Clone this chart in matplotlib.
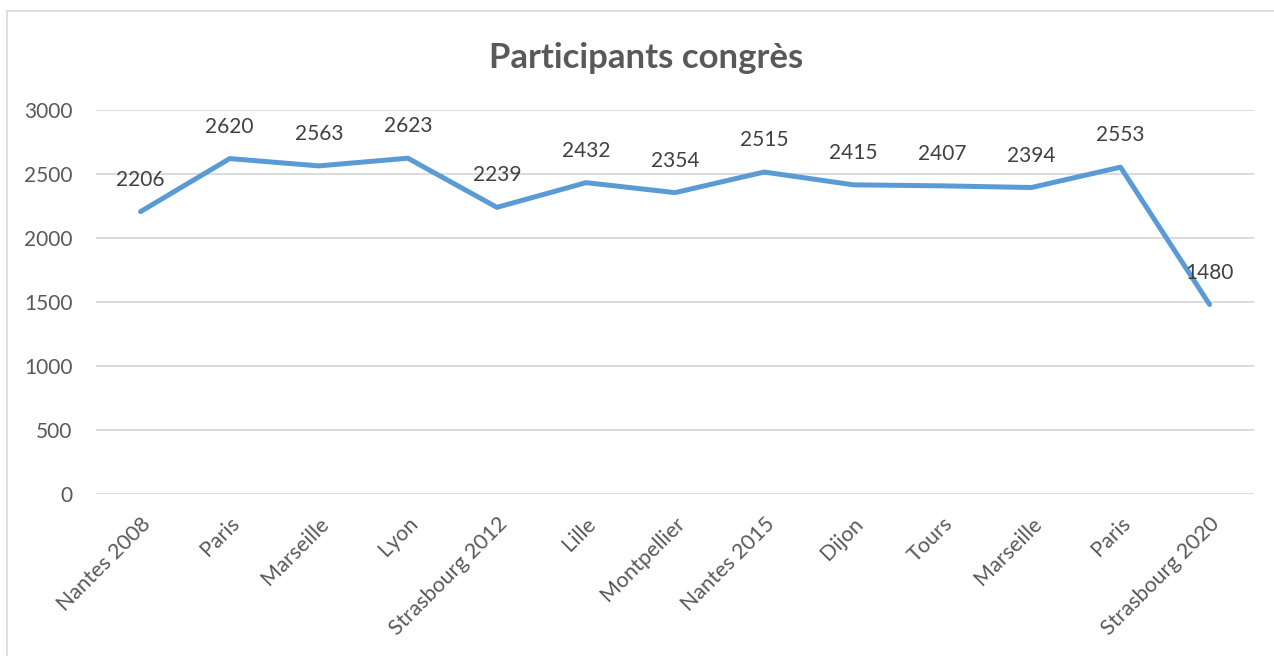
import matplotlib.pyplot as plt
import matplotlib.patches as mpatches
import numpy as np

villes = ['Nantes 2008', 'Paris', 'Marseille', 'Lyon', 'Strasbourg 2012', 'Lille',
          'Montpellier', 'Nantes 2015', 'Dijon', 'Tours', 'Marseille', 'Paris',
          'Strasbourg 2020']
participants = [2206, 2620, 2563, 2623, 2239, 2432, 2354, 2515, 2415, 2407, 2394, 2553, 1480]
yticks = [0, 500, 1000, 1500, 2000, 2500, 3000]

gris = '#595959'
bleu = '#5B9BD5'
plt.rcParams['font.family'] = ['Lato', 'DejaVu Sans']

fig = plt.figure(figsize=(12.74, 6.56), dpi=100)
ax = fig.add_axes([0.0754, 0.247, 0.909, 0.5854])

x = np.arange(len(villes))
ax.plot(x, participants, color=bleu, linewidth=3.6, solid_capstyle='round',
        solid_joinstyle='round', zorder=3)
for xi, v in zip(x, participants):
    ax.annotate(str(v), (xi, v), xytext=(0, 23), textcoords='offset points',
                ha='center', va='center', fontsize=15, color='#404040', zorder=4)

ax.set_xlim(-0.5, len(villes) - 0.5)
ax.set_ylim(0, 3000)
ax.set_yticks(yticks)
ax.set_xticks(x)
ax.set_xticklabels(villes, rotation=45, ha='right', rotation_mode='anchor',
                   fontsize=15.5, color=gris)
ax.tick_params(axis='x', length=0, pad=14)
ax.tick_params(axis='y', length=0, pad=17, labelsize=15, labelcolor=gris)
ax.grid(axis='y', color='#D9D9D9', linewidth=1.3)
ax.set_axisbelow(True)
for s in ax.spines.values():
    s.set_visible(False)

fig.text(0.507, 0.912, 'Participants congrès', ha='center', va='center',
         fontsize=25, fontweight='bold', color=gris)

# cadre du graphique
fig.add_artist(mpatches.Rectangle((7 / 1274, -0.1), 1.2, 1 - 11 / 656 + 0.1,
                                  transform=fig.transFigure, fill=False,
                                  edgecolor='#D9D9D9', linewidth=1.2))

fig.savefig('out.png', dpi=100)
